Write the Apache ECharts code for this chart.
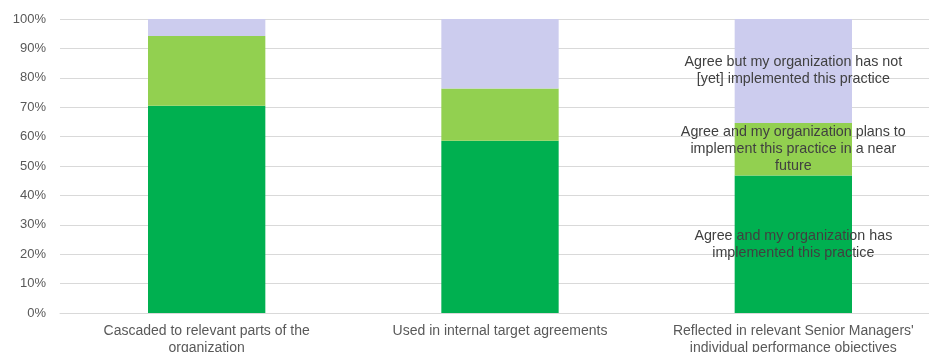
<!DOCTYPE html>
<html>
<head>
<meta charset="utf-8">
<script src="https://cdn.jsdelivr.net/npm/echarts@6/dist/echarts.min.js"></script>
<style>
html,body{margin:0;padding:0;background:#fff;}
#chart{width:929px;height:352px;}
</style>
</head>
<body>
<div id="chart"></div>
<script>
var categories = [
  "Cascaded to relevant parts of the\norganization",
  "Used in internal target agreements",
  "Reflected in relevant Senior Managers'\nindividual performance objectives"
];
var seriesNames = [
  "Agree and my organization has implemented this practice",
  "Agree and my organization plans to implement this practice in a near future",
  "Agree but my organization has not [yet] implemented this practice"
];
var seriesLabels = [
  "Agree and my organization has\nimplemented this practice",
  "Agree and my organization plans to\nimplement this practice in a near\nfuture",
  "Agree but my organization has not\n[yet] implemented this practice"
];
var implemented = [70.5, 58.6, 46.8];
var plans = [23.7, 17.8, 17.8];
var notYet = [5.8, 23.6, 35.4];
var yTicks = [0, 10, 20, 30, 40, 50, 60, 70, 80, 90, 100];

var colors = ["#00B050", "#92D050", "#CCCCEE"];
var values = [implemented, plans, notYet];

var chart = echarts.init(document.getElementById('chart'));
var series = values.map(function (vals, i) {
  return {
    name: seriesNames[i],
    type: 'bar',
    stack: 'total',
    barWidth: '40%',
    itemStyle: { color: colors[i] },
    data: vals.map(function (v, j) {
      return j === 2 ? {
        value: v,
        label: {
          show: true,
          position: 'inside',
          formatter: seriesLabels[i],
          color: '#404040',
          fontSize: 14.3,
          lineHeight: 17,
          fontFamily: 'Liberation Sans, Arial, sans-serif'
        }
      } : v;
    })
  };
});

chart.setOption({
  animation: false,
  textStyle: { fontFamily: 'Liberation Sans, Arial, sans-serif' },
  grid: { left: 60, top: 19, width: 880, bottom: 39, containLabel: false, outerBoundsMode: 'none' },
  xAxis: {
    type: 'category',
    data: categories,
    axisLine: { show: true, lineStyle: { color: '#d9d9d9' } },
    axisTick: { show: false },
    axisLabel: { color: '#595959', fontSize: 14, lineHeight: 17, margin: 10, interval: 0 }
  },
  yAxis: {
    type: 'value',
    min: yTicks[0],
    max: yTicks[yTicks.length - 1],
    interval: 10,
    axisLine: { show: false },
    axisTick: { show: false },
    splitLine: { lineStyle: { color: '#d9d9d9' } },
    axisLabel: { color: '#595959', fontSize: 13, margin: 14, formatter: '{value}%' }
  },
  series: series
});
</script>
</body>
</html>
